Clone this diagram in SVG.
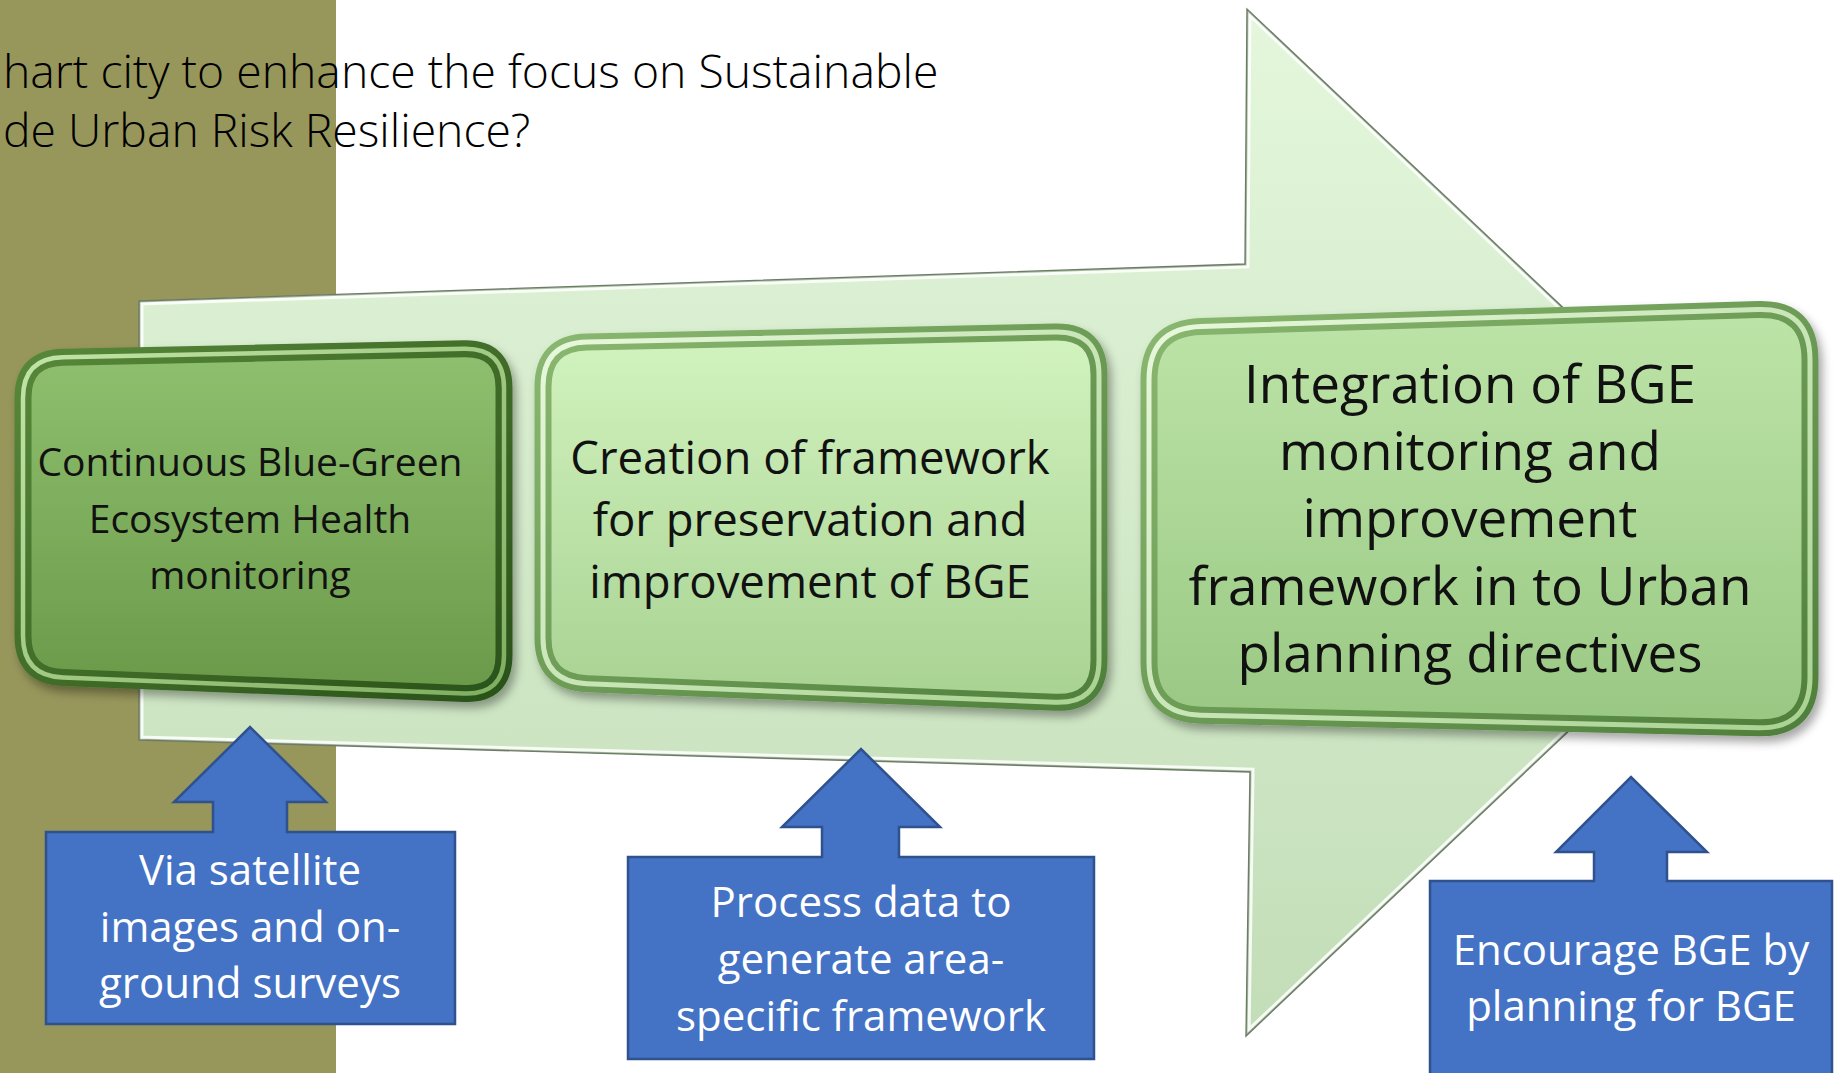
<svg xmlns="http://www.w3.org/2000/svg" xmlns:xlink="http://www.w3.org/1999/xlink" width="1841" height="1073" viewBox="0 0 1841 1073">
<style>
.title{font-family:"Open Sans","Liberation Sans",sans-serif;font-weight:300;font-size:46.3px;fill:#000}
.gtxt{font-family:"Open Sans","Liberation Sans",sans-serif;fill:#111;text-anchor:middle}
.btxt{font-family:"Open Sans","Liberation Sans",sans-serif;font-size:42px;fill:#fff;text-anchor:middle}
.callout{fill:#4472C4;stroke:#2F528F;stroke-width:2.5;stroke-linejoin:miter}
</style>
<defs>
<linearGradient id="arrowFill" gradientUnits="userSpaceOnUse" x1="0" y1="9" x2="0" y2="1036">
<stop offset="0" stop-color="#E4F7DC"/><stop offset="1" stop-color="#C3DDB8"/>
</linearGradient>
<linearGradient id="fillA" x1="0" y1="0" x2="0" y2="1">
<stop offset="0" stop-color="#8FC06F"/><stop offset="1" stop-color="#6A9A49"/>
</linearGradient>
<linearGradient id="fillB" x1="0" y1="0" x2="0" y2="1">
<stop offset="0" stop-color="#D2F3BF"/><stop offset="1" stop-color="#A8D292"/>
</linearGradient>
<linearGradient id="fillC" x1="0" y1="0" x2="0" y2="1">
<stop offset="0" stop-color="#BDE4A8"/><stop offset="1" stop-color="#99C883"/>
</linearGradient>
<linearGradient id="tubeDarkA" x1="0" y1="0" x2="1" y2="1">
<stop offset="0" stop-color="#578839"/><stop offset="1" stop-color="#2A5219"/>
</linearGradient>
<linearGradient id="tubeLightA" x1="0" y1="0" x2="1" y2="1">
<stop offset="0" stop-color="#C2E5A7"/><stop offset="1" stop-color="#7FAE60"/>
</linearGradient>
<linearGradient id="tubeDarkL" x1="0" y1="0" x2="1" y2="1">
<stop offset="0" stop-color="#8AB871"/><stop offset="1" stop-color="#4F7F3B"/>
</linearGradient>
<linearGradient id="tubeLightL" x1="0" y1="0" x2="1" y2="1">
<stop offset="0" stop-color="#E8F9DC"/><stop offset="1" stop-color="#A9D292"/>
</linearGradient>
<filter id="shadow" x="-10%" y="-10%" width="125%" height="130%">
<feDropShadow dx="4" dy="6" stdDeviation="5" flood-color="#000" flood-opacity="0.35"/>
</filter>
<path id="bigArrow" d="M139,301 L1245,264 L1247,9 L1790,522 L1246,1036 L1250,772 L139,740 Z"/>
<clipPath id="arrowClip"><use xlink:href="#bigArrow"/></clipPath>
<path id="shapeA" d="M63,357.17 L464,348.83 Q504,348 504,388 L504,655 Q504,695 464,693.42 L63,677.58 Q23,676 23,636 L23,398 Q23,358 63,357.17 Z"/>
<path id="shapeB" d="M587,342.05 L1055,331.95 Q1099,331 1099,375 L1099,660 Q1099,704 1055,702.3 L587,683.7 Q543,682 543,638 L543,387 Q543,343 587,342.05 Z"/>
<path id="shapeC" d="M1201,326.43 L1758,309.57 Q1810,308 1810,360 L1810,677 Q1810,729 1758,727.82 L1201,715.18 Q1149,714 1149,662 L1149,380 Q1149,328 1201,326.43 Z"/>
</defs>

<rect x="0" y="0" width="1841" height="1073" fill="#FFFFFF"/>
<rect id="olive-band" x="0" y="0" width="336" height="1073" fill="#97965B"/>

<g id="title">
<text class="title" x="3" y="88">hart city to enhance the focus on Sustainable</text>
<text class="title" x="3" y="147">de Urban Risk Resilience?</text>
</g>

<g id="process-arrow">
<use xlink:href="#bigArrow" fill="url(#arrowFill)"/>
<use xlink:href="#bigArrow" fill="none" stroke="#FFFFFF" stroke-opacity="0.85" stroke-width="9" clip-path="url(#arrowClip)"/>
<use xlink:href="#bigArrow" fill="none" stroke="#A9C3A0" stroke-width="3" clip-path="url(#arrowClip)"/>
<use xlink:href="#bigArrow" fill="none" stroke="#6E7A6A" stroke-width="1.4"/>
</g>

<g id="step1">
<use xlink:href="#shapeA" fill="url(#fillA)" stroke="url(#tubeDarkA)" stroke-width="17" filter="url(#shadow)"/>
<use xlink:href="#shapeA" fill="none" stroke="url(#tubeLightA)" stroke-width="4.5"/>
<text class="gtxt" font-size="39" x="250" y="476">Continuous Blue-Green</text>
<text class="gtxt" font-size="39" x="250" y="533">Ecosystem Health</text>
<text class="gtxt" font-size="39" x="250" y="589">monitoring</text>
</g>

<g id="step2">
<use xlink:href="#shapeB" fill="url(#fillB)" stroke="url(#tubeDarkL)" stroke-width="17" filter="url(#shadow)"/>
<use xlink:href="#shapeB" fill="none" stroke="url(#tubeLightL)" stroke-width="5"/>
<text class="gtxt" font-size="45.5" x="810" y="474">Creation of framework</text>
<text class="gtxt" font-size="45.5" x="810" y="536">for preservation and</text>
<text class="gtxt" font-size="45.5" x="810" y="598">improvement of BGE</text>
</g>

<g id="step3">
<use xlink:href="#shapeC" fill="url(#fillC)" stroke="url(#tubeDarkL)" stroke-width="17" filter="url(#shadow)"/>
<use xlink:href="#shapeC" fill="none" stroke="url(#tubeLightL)" stroke-width="5"/>
<text class="gtxt" font-size="53" x="1470" y="403">Integration of BGE</text>
<text class="gtxt" font-size="53" x="1470" y="470">monitoring and</text>
<text class="gtxt" font-size="53" x="1470" y="537">improvement</text>
<text class="gtxt" font-size="53" x="1470" y="605">framework in to Urban</text>
<text class="gtxt" font-size="53" x="1470" y="672">planning directives</text>
</g>

<g id="connectors">
<g id="callout1">
<path class="callout" d="M46,832 L213,832 L213,802 L174,802 L250,727 L326,802 L287,802 L287,832 L455,832 L455,1024 L46,1024 Z"/>
<text class="btxt" x="250" y="885">Via satellite</text>
<text class="btxt" x="250" y="942">images and on-</text>
<text class="btxt" x="250" y="998">ground surveys</text>
</g>
<g id="callout2">
<path class="callout" d="M628,857 L822,857 L822,827 L782,827 L861,749 L940,827 L899,827 L899,857 L1094,857 L1094,1059 L628,1059 Z"/>
<text class="btxt" x="861" y="917">Process data to</text>
<text class="btxt" x="861" y="974">generate area-</text>
<text class="btxt" x="861" y="1031">specific framework</text>
</g>
<g id="callout3">
<path class="callout" d="M1430,881 L1594,881 L1594,852 L1556,852 L1631,777 L1707,852 L1667,852 L1667,881 L1832,881 L1832,1080 L1430,1080 Z"/>
<text class="btxt" x="1631" y="965">Encourage BGE by</text>
<text class="btxt" x="1631" y="1021">planning for BGE</text>
</g>
</g>
</svg>
